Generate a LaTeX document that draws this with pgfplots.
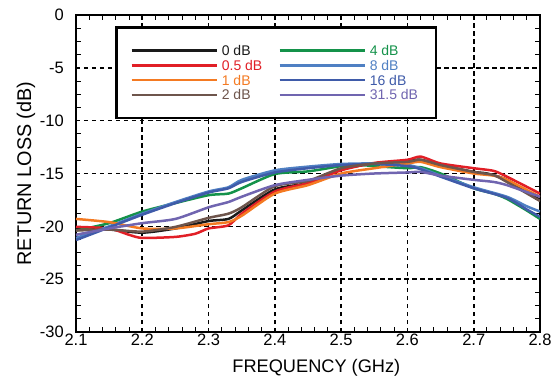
\documentclass[border=0pt]{standalone}
\usepackage{pgfplots}
\pgfplotsset{compat=1.18}
\usepackage{fontspec}
\setmainfont{Liberation Sans}
\definecolor{cBlack}{HTML}{1A1A1A}
\definecolor{cRed}{HTML}{E11F26}
\definecolor{cOrange}{HTML}{F47A22}
\definecolor{cBrown}{HTML}{6E554C}
\definecolor{cGreen}{HTML}{14924A}
\definecolor{cLBlue}{HTML}{4F80C3}
\definecolor{cDBlue}{HTML}{3F5BA9}
\definecolor{cPurple}{HTML}{7065B0}
\begin{document}
\begin{tikzpicture}
\begin{axis}[
  scale only axis, width=464pt, height=317pt,
  xmin=2.1, xmax=2.8, ymin=-30, ymax=0,
  xtick={2.1,2.2,...,2.8}, ytick={-30,-25,...,0},
  minor x tick num=4, minor y tick num=3,
  tick align=inside, major tick length=0pt, minor tick length=5pt,
  minor tick style={black, line width=1pt},
  axis line style={line width=2.6pt},
  grid=major,
  major grid style={black, line width=1.6pt, dash pattern=on 4.5pt off 3.5pt},
  tick label style={font=\fontsize{16.5}{18}\selectfont, inner sep=2pt},
  /pgf/number format/assume math mode=true,
  xticklabel style={/pgf/number format/.cd, fixed, precision=1, fixed zerofill},
  yticklabel style={xshift=-10pt},
  xlabel={FREQUENCY (GHz)}, ylabel={RETURN LOSS (dB)},
  xlabel style={font=\fontsize{18.2}{20}\selectfont, at={(axis description cs:0.518,-0.1136)}, anchor=center},
  ylabel style={font=\fontsize{19.8}{22}\selectfont, at={(axis description cs:-0.1078,0.5)}, anchor=center},
  every axis plot/.append style={line width=2.5pt, smooth, tension=0.4},
  legend image code/.code={\draw[#1, line width=2.5pt] (0pt,0pt) -- (85pt,0pt);},
  legend columns=2,
  legend style={at={(0.0841,0.9653)}, anchor=north west, draw=black, line width=2.6pt,
    inner xsep=14pt, inner ysep=16pt,
    nodes={inner xsep=4pt, inner ysep=1.5pt, text height=10.8pt, text depth=0.9pt, anchor=west},
    /tikz/every even column/.append style={column sep=12pt},
    font=\fontsize{14}{16}\selectfont},
]
\addplot[cBlack] table {
2.10 -20.2
2.15 -20.3
2.20 -20.6
2.25 -20.2
2.30 -19.5
2.33 -19.3
2.35 -18.5
2.40 -16.5
2.45 -15.9
2.50 -14.6
2.55 -14.05
2.60 -13.8
2.62 -13.7
2.65 -14.2
2.70 -14.85
2.72 -15.0
2.75 -15.6
2.80 -17.5
};
\addlegendentry{\textcolor{cBlack}{0 dB}}
\addplot[cGreen] table {
2.10 -20.4
2.15 -19.7
2.20 -18.6
2.25 -17.8
2.30 -17.05
2.33 -16.9
2.35 -16.4
2.40 -15.05
2.45 -14.8
2.50 -14.3
2.52 -14.15
2.55 -14.3
2.60 -14.5
2.62 -14.4
2.65 -15.0
2.70 -16.4
2.73 -16.9
2.75 -17.4
2.78 -18.5
2.80 -19.3
};
\addlegendentry{\textcolor{cGreen}{4 dB}}
\addplot[cRed] table {
2.10 -20.05
2.15 -20.2
2.18 -20.8
2.20 -21.1
2.25 -21.0
2.28 -20.7
2.30 -20.2
2.33 -19.9
2.35 -18.8
2.40 -16.7
2.45 -15.9
2.50 -14.7
2.55 -14.0
2.60 -13.7
2.62 -13.4
2.65 -14.05
2.70 -14.5
2.73 -14.75
2.75 -15.3
2.80 -16.9
};
\addlegendentry{\textcolor{cRed}{0.5 dB}}
\addplot[cLBlue] table {
2.10 -21.1
2.15 -20.0
2.20 -18.8
2.25 -17.7
2.30 -16.7
2.33 -16.3
2.35 -15.6
2.40 -14.7
2.45 -14.35
2.50 -14.1
2.55 -14.05
2.60 -14.2
2.62 -14.5
2.65 -15.2
2.70 -16.3
2.75 -17.2
2.78 -18.1
2.80 -18.6
};
\addlegendentry{\textcolor{cLBlue}{8 dB}}
\addplot[cOrange] table {
2.10 -19.3
2.15 -19.6
2.20 -20.2
2.25 -20.2
2.30 -19.8
2.33 -19.6
2.35 -19.0
2.40 -16.9
2.45 -16.1
2.50 -15.0
2.55 -14.5
2.60 -14.05
2.62 -13.9
2.65 -14.4
2.70 -15.0
2.73 -15.2
2.75 -15.6
2.80 -17.2
};
\addlegendentry{\textcolor{cOrange}{1 dB}}
\addplot[cDBlue] table {
2.10 -21.3
2.15 -20.1
2.20 -18.9
2.25 -17.8
2.30 -16.8
2.33 -16.4
2.35 -15.8
2.40 -14.9
2.45 -14.5
2.50 -14.2
2.55 -14.1
2.60 -14.3
2.62 -14.6
2.65 -15.3
2.70 -16.4
2.75 -17.3
2.78 -18.4
2.80 -19.1
};
\addlegendentry{\textcolor{cDBlue}{16 dB}}
\addplot[cBrown] table {
2.10 -20.4
2.15 -20.3
2.20 -20.5
2.25 -20.05
2.30 -19.2
2.33 -18.8
2.35 -18.2
2.40 -16.2
2.45 -15.7
2.50 -14.5
2.55 -14.05
2.60 -13.9
2.62 -13.7
2.65 -14.2
2.70 -14.85
2.73 -15.15
2.75 -15.8
2.80 -17.6
};
\addlegendentry{\textcolor{cBrown}{2 dB}}
\addplot[cPurple] table {
2.10 -20.8
2.15 -20.2
2.20 -19.7
2.25 -19.3
2.30 -18.2
2.33 -17.7
2.35 -17.2
2.40 -16.1
2.45 -15.6
2.50 -15.2
2.55 -15.0
2.60 -14.9
2.62 -14.85
2.65 -15.2
2.70 -15.6
2.73 -15.8
2.75 -16.1
2.80 -17.2
};
\addlegendentry{\textcolor{cPurple}{31.5 dB}}
\end{axis}
\pgfresetboundingbox
\path (-76pt,-51pt) rectangle (478pt,332pt);
\end{tikzpicture}
\end{document}
